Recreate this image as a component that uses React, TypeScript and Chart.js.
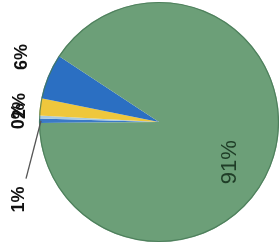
import React, { useEffect, useRef } from "react";
import { Chart, registerables } from "chart.js";

Chart.register(...registerables);

// Slices, listed clockwise from the left edge of the pie
const categories = ["D", "E", "C", "B", "A"];
const values = [0.6, 0.4, 2.3, 6.1, 90.6];
const colors = ["#3a79c6", "#a9cbe0", "#efc73c", "#2b6fc2", "#6c9f78"];

// label layout (style only): radial distance, angle shift (deg), vertical shift
const labelLayout = [
  { dist: 140, da: 0, dy: 79, leader: true },
  { dist: 140, da: 0, dy: 0, leader: false },
  { dist: 140, da: -0.7, dy: 0, leader: false },
  { dist: 152, da: 3, dy: 0, leader: false },
  { dist: 82, da: 13, dy: 0, leader: false },
];

const labelPlugin = {
  id: "rotatedLabels",
  afterDatasetsDraw(chart: any) {
    const ctx = chart.ctx as CanvasRenderingContext2D;
    const meta = chart.getDatasetMeta(0);
    const data = chart.data.datasets[0].data as number[];
    const total = data.reduce((a, b) => a + b, 0);
    // subtle outline around the pie
    const a0 = meta.data[0].getProps(["x", "y", "outerRadius"], true);
    ctx.save();
    ctx.strokeStyle = "rgba(70,120,85,0.8)";
    ctx.lineWidth = 1.2;
    ctx.beginPath();
    ctx.arc(a0.x, a0.y, a0.outerRadius - 0.5, 0, Math.PI * 2);
    ctx.stroke();
    ctx.restore();
    meta.data.forEach((arc: any, i: number) => {
      const p = arc.getProps(["x", "y", "startAngle", "endAngle", "outerRadius"], true);
      const L = labelLayout[i];
      const mid = (p.startAngle + p.endAngle) / 2 + (L.da * Math.PI) / 180;
      const lx = p.x + Math.cos(mid) * L.dist;
      const ly = p.y + Math.sin(mid) * L.dist + L.dy;
      const txt = Math.round((data[i] / total) * 100) + "%";
      const inside = i === data.length - 1;
      ctx.save();
      if (L.leader) {
        const ex = p.x + Math.cos(mid) * p.outerRadius;
        const ey = p.y + Math.sin(mid) * p.outerRadius;
        ctx.strokeStyle = "#555";
        ctx.lineWidth = 1.3;
        ctx.beginPath();
        ctx.moveTo(lx + 7, ly - 21);
        ctx.lineTo(ex + 2, ey);
        ctx.stroke();
      }
      ctx.translate(lx, ly);
      ctx.rotate(-Math.PI / 2);
      ctx.textAlign = "center";
      ctx.textBaseline = "middle";
      if (inside) {
        ctx.font = "22px 'Liberation Sans', Arial, sans-serif";
        ctx.fillStyle = "#1f3d27";
      } else {
        ctx.font = "bold 18px 'Liberation Sans', Arial, sans-serif";
        ctx.fillStyle = "#111";
      }
      ctx.fillText(txt, 0, 0);
      ctx.restore();
    });
  },
};

export default function App() {
  const ref = useRef<HTMLCanvasElement | null>(null);
  useEffect(() => {
    if (!ref.current) return;
    const chart = new Chart(ref.current, {
      type: "pie",
      data: {
        labels: categories,
        datasets: [
          {
            data: values,
            backgroundColor: colors,
            borderWidth: 0,
          },
        ],
      },
      options: {
        responsive: false,
        animation: false,
        rotation: 269.5,
        layout: { padding: { left: 39, right: 0, top: 2, bottom: 8 } },
        plugins: {
          legend: { display: false },
          tooltip: { enabled: false },
        },
      },
      plugins: [labelPlugin],
    });
    return () => chart.destroy();
  }, []);
  return (
    <div style={{ position: "absolute", left: 0, top: 0, width: 279, height: 250, background: "#fff" }}>
      <canvas ref={ref} width={279} height={250} />
    </div>
  );
}
